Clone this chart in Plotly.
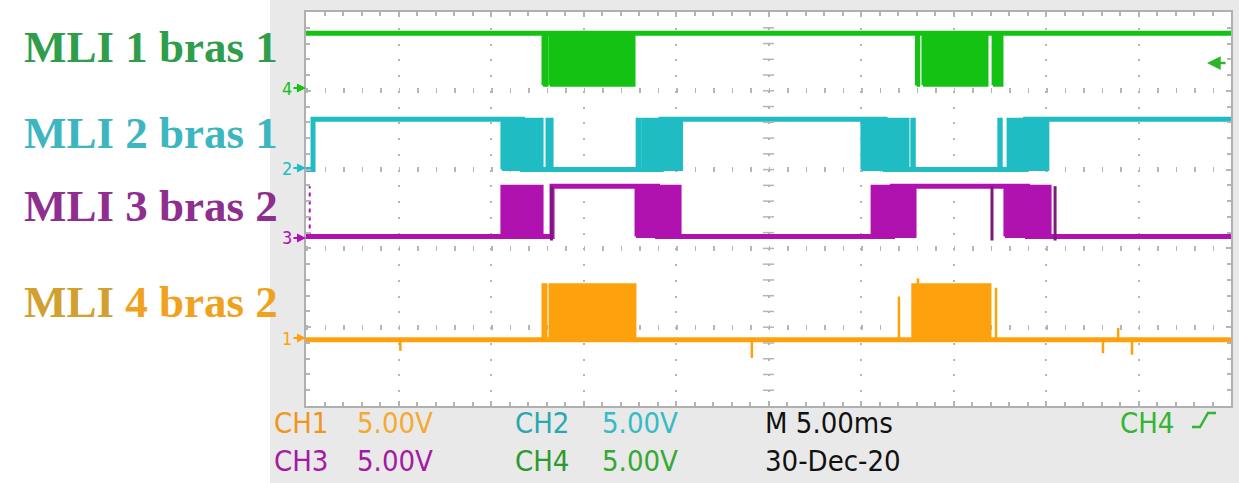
import numpy as np
import plotly.graph_objects as go

W, H = 1239, 483

# ---------------- data (time in ms, 5 ms/div; vertical in divisions) ----------------
t_end = 50.0

# CH4 (green) - MLI 1 bras 1
ch4_hi, ch4_lo = 4.73, 4.07
ch4_t = [0.0, 50.0]
ch4_state = [1, 1]
ch4_bursts = [(12.81, 13.03), (13.19, 17.73), (33.0, 33.12), (33.35, 36.81), (37.14, 37.62)]

# CH2 (cyan) - MLI 2 bras 1
ch2_hi, ch2_lo = 3.64, 3.00
ch2_t = [0.0, 0.38, 11.7, 19.2, 31.3, 38.9, 50.0]
ch2_state = [0, 1, 0, 1, 0, 1, 1]
ch2_bursts = [(10.59, 12.76), (13.03, 13.30), (17.90, 18.05), (18.20, 20.30),
              (30.05, 32.54), (32.75, 32.88), (37.45, 37.58), (37.95, 40.10)]

# CH3 (purple) - MLI 3 bras 2
ch3_hi, ch3_lo = 2.79, 2.15
ch3_t = [0.0, 13.3, 19.0, 31.7, 39.0, 50.0]
ch3_state = [0, 1, 0, 1, 0, 0]
ch3_bursts = [(10.59, 12.76), (17.84, 20.22), (30.60, 32.92), (37.78, 40.22)]
ch3_edges = [13.27, 37.08, 40.49]
ch3_artifact_t = 0.2

# CH1 (orange) - MLI 4 bras 2
ch1_hi, ch1_lo = 1.54, 0.84
ch1_t = [0.0, 50.0]
ch1_state = [0, 0]
ch1_bursts = [(12.81, 12.97), (13.19, 17.78), (32.80, 36.97)]
ch1_spike_t = [5.1, 24.1, 32.05, 33.08, 37.30, 43.08, 43.9, 44.65]
ch1_spike_v = [0.70, 0.61, 1.39, 1.62, 1.50, 0.67, 0.99, 0.65]

labels = ["MLI 1 bras 1", "MLI 2 bras 1", "MLI 3 bras 2", "MLI 4 bras 2"]
ch_markers = ["4", "2", "3", "1"]

# ---------------- styling ----------------
GREEN = "#14c214"
CYAN = "#1fbcc4"
PURPLE = "#b012b0"
ORANGE = "#fda20c"
GRID = "#b5b5b5"
PANEL = "#e9e9e9"

X0, X1 = 306, 1231   # plot area in px
Y0, Y1 = 12, 406


def fx(px):
    return px / W


def fy(py):
    return 1 - py / H


fig = go.Figure()


def add_channel(t, state, hi, lo, bursts, color):
    y = [hi if s else lo for s in state]
    fig.add_trace(go.Scatter(x=t, y=y, mode="lines",
                             line=dict(color=color, width=5, shape="hv"),
                             hoverinfo="skip", showlegend=False))
    bx, by = [], []
    for s, e in bursts:
        bx += [s, e, e, s, s, None]
        by += [lo, lo, hi, hi, lo, None]
    fig.add_trace(go.Scatter(x=bx, y=by, mode="lines", fill="toself",
                             fillcolor=color, line=dict(color=color, width=3),
                             hoverinfo="skip", showlegend=False))


add_channel(ch4_t, ch4_state, ch4_hi, ch4_lo, ch4_bursts, GREEN)
add_channel(ch2_t, ch2_state, ch2_hi, ch2_lo, ch2_bursts, CYAN)
add_channel(ch3_t, ch3_state, ch3_hi, ch3_lo, ch3_bursts, PURPLE)
add_channel(ch1_t, ch1_state, ch1_hi, ch1_lo, ch1_bursts, ORANGE)

# purple narrow edges (darker)
ex, ey = [], []
for t in ch3_edges:
    ex += [t, t, None]
    ey += [ch3_lo - 0.05, ch3_hi, None]
fig.add_trace(go.Scatter(x=ex, y=ey, mode="lines", line=dict(color="#7d1a7d", width=3),
                         hoverinfo="skip", showlegend=False))
fig.add_trace(go.Scatter(x=[ch3_artifact_t, ch3_artifact_t], y=[ch3_lo, ch3_hi], mode="lines",
                         line=dict(color=PURPLE, width=2, dash="4px,4px"),
                         hoverinfo="skip", showlegend=False))

# orange spikes
sx, sy = [], []
for t, v in zip(ch1_spike_t, ch1_spike_v):
    sx += [t, t, None]
    sy += [ch1_lo, v, None]
fig.add_trace(go.Scatter(x=sx, y=sy, mode="lines", line=dict(color=ORANGE, width=2.5),
                         hoverinfo="skip", showlegend=False))

# centre axis tick marks
fig.add_trace(go.Scatter(x=[25] * 24, y=np.arange(1, 25) * 0.2, mode="markers",
                         marker=dict(symbol="line-ew", size=8, line=dict(color=GRID, width=1.5)),
                         hoverinfo="skip", showlegend=False))

axis_common = dict(showticklabels=False, showline=True, linecolor="#b0b0b0", linewidth=2,
                   mirror="allticks", zeroline=False, ticks="inside", ticklen=5,
                   tickcolor=GRID, tickwidth=1.5, fixedrange=True)

fig.update_layout(
    width=W, height=H, autosize=False,
    margin=dict(l=0, r=0, t=0, b=0, pad=0),
    paper_bgcolor=PANEL, plot_bgcolor="white",
    xaxis=dict(range=[0, t_end], domain=[fx(X0), fx(X1)], dtick=5, tick0=0,
               showgrid=True, gridcolor=GRID, gridwidth=2, griddash="2px,13.76px",
               minor=dict(dtick=1, tick0=0, ticks="inside", ticklen=4, tickcolor=GRID,
                          tickwidth=1.5, showgrid=False),
               **axis_common),
    yaxis=dict(range=[0, 5], domain=[fy(Y1), fy(Y0)], dtick=1, tick0=0,
               showgrid=True, gridcolor=GRID, gridwidth=5, griddash="1.5px,17px",
               minor=dict(dtick=0.2, tick0=0, ticks="inside", ticklen=4, tickcolor=GRID,
                          tickwidth=1.5, showgrid=False),
               **axis_common),
    showlegend=False,
)

# white label area on the left
fig.add_shape(type="rect", xref="paper", yref="paper", x0=0, x1=fx(270), y0=0, y1=1,
              fillcolor="white", line=dict(width=0), layer="below")

ann = []
label_colors = ["#2f9e4c", "#3db6bf", "#8e2e8e", "#f0a21e"]
label_py = [47, 133, 206, 302]
for i, (txt, c, py) in enumerate(zip(labels, label_colors, label_py)):
    if i == 3:
        parts = txt.split(" ", 1)
        txt_html = "<b><span style='color:#d0a030'>" + parts[0] + "</span> " + parts[1] + "</b>"
    else:
        txt_html = "<b>" + txt + "</b>"
    ann.append(dict(text=txt_html, x=fx(280), y=fy(py), xref="paper", yref="paper",
                    xanchor="right", yanchor="middle", showarrow=False,
                    font=dict(family="Liberation Serif, Times New Roman, serif", size=45, color=c)))

# channel ground markers
marker_colors = [GREEN, CYAN, PURPLE, ORANGE]
marker_py = [88, 168, 238, 338]
for m, c, py in zip(ch_markers, marker_colors, marker_py):
    ann.append(dict(text=m, x=fx(280), y=fy(py), xref="paper", yref="paper",
                    xanchor="left", yanchor="middle", showarrow=False,
                    font=dict(family="DejaVu Sans Condensed, DejaVu Sans, sans-serif", size=18, color=c)))
    ann.append(dict(text="", x=fx(306), y=fy(py), ax=-14, ay=0, xref="paper", yref="paper",
                    showarrow=True, arrowhead=2, arrowsize=0.9, arrowwidth=2, arrowcolor=c))

# trigger level arrow (right)
ann.append(dict(text="", x=fx(1207), y=fy(63), ax=20, ay=0, xref="paper", yref="paper",
                showarrow=True, arrowhead=2, arrowsize=1.1, arrowwidth=2.5, arrowcolor="#2cb52c"))

# bottom readout
FONT_R = "DejaVu Sans Condensed, DejaVu Sans, sans-serif"
readout = [
    ("CH1", 272, 423, "#f0961a"), ("5.00V", 355, 423, "#f5aa30"),
    ("CH3", 272, 461, "#a41aa4"), ("5.00V", 355, 461, "#a41aa4"),
    ("CH2", 513, 423, "#2aa8b0"), ("5.00V", 600, 423, "#35bcc4"),
    ("CH4", 513, 461, "#2e9a2e"), ("5.00V", 600, 461, "#36a836"),
    ("M 5.00ms", 763, 423, "#111111"), ("30-Dec-20", 763, 461, "#111111"),
    ("CH4", 1118, 423, "#33b633"),
]
for txt, px, py, c in readout:
    ann.append(dict(text=txt, x=fx(px), y=fy(py), xref="paper", yref="paper",
                    xanchor="left", yanchor="middle", showarrow=False,
                    font=dict(family=FONT_R, size=29, color=c)))

fig.update_layout(annotations=ann)

# rising-edge trigger symbol
fig.add_shape(type="path", xref="paper", yref="paper",
              path=f"M {fx(1192)},{fy(427)} L {fx(1200)},{fy(427)} L {fx(1208)},{fy(413)} L {fx(1216)},{fy(413)}",
              line=dict(color="#33b633", width=2.5))

fig.write_html("out.html", config={"displayModeBar": False},
               post_script="document.body.style.margin='0';document.body.style.overflow='hidden';")
